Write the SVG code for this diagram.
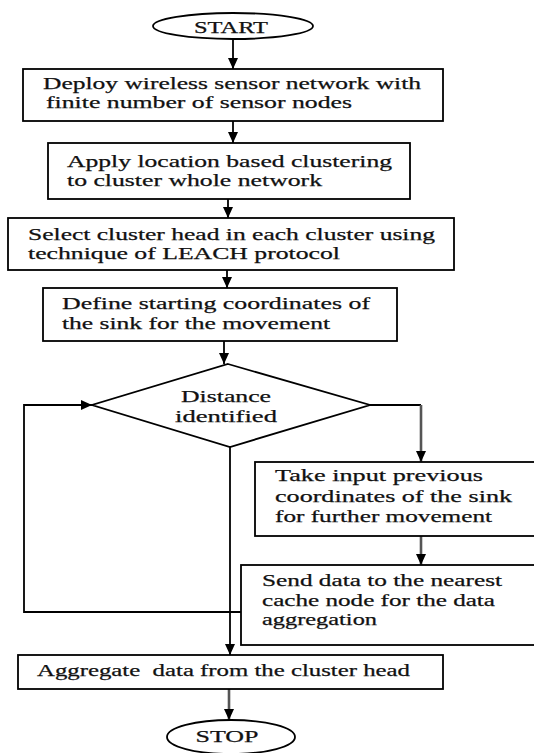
<svg xmlns="http://www.w3.org/2000/svg" width="534" height="753" viewBox="0 0 534 753">
<style>
.shape{fill:#fff;stroke:#000;stroke-width:1.8}
.t{font-family:"Liberation Serif","Times New Roman","DejaVu Serif",serif;font-size:17px;fill:#111;stroke:#111;stroke-width:0.25}
.c{text-anchor:middle}
.edge{fill:none;stroke:#000;stroke-width:1.8}
.gray{stroke:#555;stroke-width:2.6}
</style>
<defs>
<marker id="ah" markerUnits="userSpaceOnUse" markerWidth="12" markerHeight="10" refX="11" refY="5" orient="auto">
<path d="M0,0 L11,5 L0,10 z" fill="#000"/>
</marker>
</defs>
<rect width="534" height="753" fill="#fff"/>
<g id="connectors">
<path class="edge" d="M233,39 V69" marker-end="url(#ah)"/>
<path class="edge" d="M233,121 V143" marker-end="url(#ah)"/>
<path class="edge" d="M228,199 V218" marker-end="url(#ah)"/>
<path class="edge" d="M227,270 V288" marker-end="url(#ah)"/>
<path class="edge" d="M224,341 V364" marker-end="url(#ah)"/>
<path class="edge" d="M370,405 H421"/>
<path class="edge gray" d="M421,405 V462" marker-end="url(#ah)"/>
<path class="edge gray" d="M421,536 V565" marker-end="url(#ah)"/>
<path class="edge" d="M230,447 V655" marker-end="url(#ah)"/>
<path class="edge" d="M241,612 H24 V405 H92" marker-end="url(#ah)"/>
<path class="edge gray" d="M229,689 V720" marker-end="url(#ah)"/>
</g>
<g id="start">
<ellipse class="shape" cx="233" cy="26" rx="80" ry="13"/>
<text class="t c" x="231" y="33" textLength="74" lengthAdjust="spacingAndGlyphs">START</text>
</g>
<g id="deploy">
<rect class="shape" x="23" y="69" width="420" height="52"/>
<text class="t" x="43" y="89" textLength="378" lengthAdjust="spacingAndGlyphs">Deploy wireless sensor network with</text>
<text class="t" x="46" y="108" textLength="306" lengthAdjust="spacingAndGlyphs">finite number of sensor nodes</text>
</g>
<g id="apply">
<rect class="shape" x="48" y="143" width="362" height="56"/>
<text class="t" x="67" y="167" textLength="325" lengthAdjust="spacingAndGlyphs">Apply location based clustering</text>
<text class="t" x="67" y="186" textLength="255" lengthAdjust="spacingAndGlyphs">to cluster whole network</text>
</g>
<g id="select">
<rect class="shape" x="8" y="218" width="446" height="52"/>
<text class="t" x="28" y="240" textLength="407" lengthAdjust="spacingAndGlyphs">Select cluster head in each cluster using</text>
<text class="t" x="28" y="259" textLength="312" lengthAdjust="spacingAndGlyphs">technique of LEACH protocol</text>
</g>
<g id="define">
<rect class="shape" x="43" y="288" width="354" height="53"/>
<text class="t" x="62" y="309" textLength="308" lengthAdjust="spacingAndGlyphs">Define starting coordinates of</text>
<text class="t" x="62" y="329" textLength="268" lengthAdjust="spacingAndGlyphs">the sink for the movement</text>
</g>
<g id="distance">
<polygon class="shape" points="228,364 370,405 230,447 92,405"/>
<text class="t c" x="226" y="402" textLength="90" lengthAdjust="spacingAndGlyphs">Distance</text>
<text class="t c" x="226" y="422" textLength="102" lengthAdjust="spacingAndGlyphs">identified</text>
</g>
<g id="takeinput">
<rect class="shape" x="255" y="462" width="290" height="74"/>
<text class="t" x="275" y="481" textLength="208" lengthAdjust="spacingAndGlyphs">Take input previous</text>
<text class="t" x="275" y="502" textLength="237" lengthAdjust="spacingAndGlyphs">coordinates of the sink</text>
<text class="t" x="275" y="522" textLength="217" lengthAdjust="spacingAndGlyphs">for further movement</text>
</g>
<g id="senddata">
<rect class="shape" x="241" y="565" width="300" height="80"/>
<text class="t" x="262" y="586" textLength="240" lengthAdjust="spacingAndGlyphs">Send data to the nearest</text>
<text class="t" x="262" y="606" textLength="233" lengthAdjust="spacingAndGlyphs">cache node for the data</text>
<text class="t" x="262" y="625" textLength="115" lengthAdjust="spacingAndGlyphs">aggregation</text>
</g>
<g id="aggregate">
<rect class="shape" x="18" y="655" width="425" height="34"/>
<text class="t" x="37" y="676" textLength="373" lengthAdjust="spacingAndGlyphs" xml:space="preserve">Aggregate  data from the cluster head</text>
</g>
<g id="stop">
<ellipse class="shape" cx="231" cy="737" rx="64" ry="17"/>
<text class="t c" x="227" y="742" textLength="63" lengthAdjust="spacingAndGlyphs">STOP</text>
</g>
</svg>
